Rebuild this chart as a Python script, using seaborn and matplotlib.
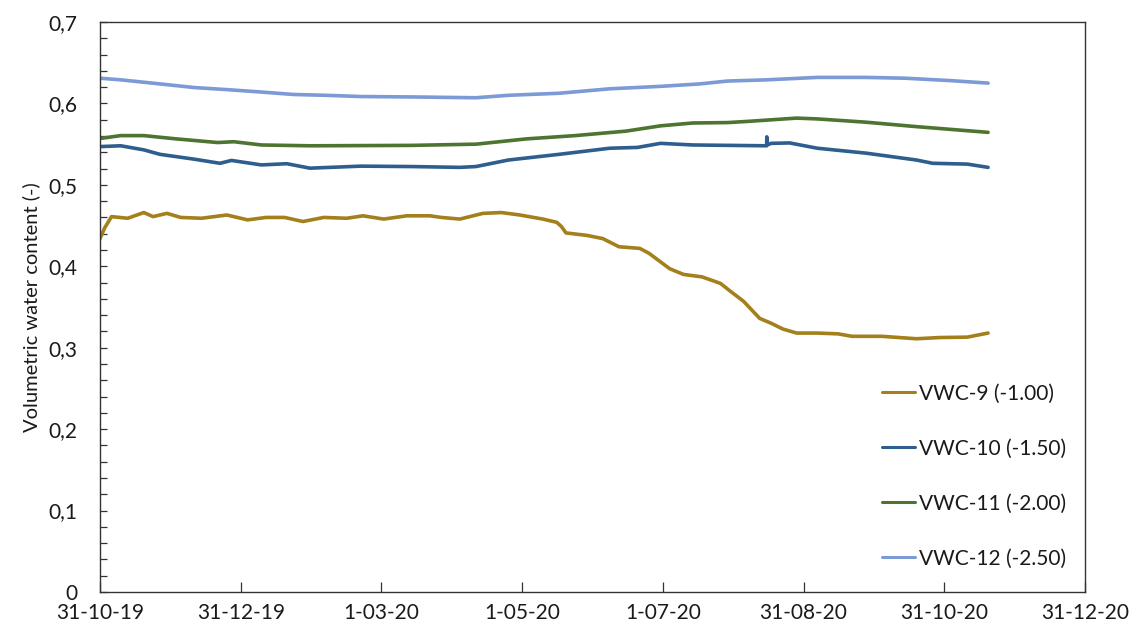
import matplotlib
matplotlib.use("Agg")
import matplotlib.pyplot as plt
import matplotlib.dates as mdates
from matplotlib.ticker import MultipleLocator, FixedLocator, FixedFormatter
import pandas as pd
import seaborn as sns

# --- data -----------------------------------------------------------------
vwc9_dates = ["2019-10-31", "2019-11-02", "2019-11-05", "2019-11-12", "2019-11-19",
              "2019-11-23", "2019-11-29", "2019-12-05", "2019-12-14", "2019-12-25",
              "2020-01-03", "2020-01-11", "2020-01-19", "2020-01-27", "2020-02-05",
              "2020-02-15", "2020-02-22", "2020-03-02", "2020-03-12", "2020-03-22",
              "2020-03-27", "2020-04-04", "2020-04-14", "2020-04-22", "2020-04-30",
              "2020-05-10", "2020-05-16", "2020-05-18", "2020-05-20", "2020-05-29",
              "2020-06-05", "2020-06-12", "2020-06-21", "2020-06-25", "2020-07-04",
              "2020-07-10", "2020-07-18", "2020-07-26", "2020-07-30", "2020-08-05",
              "2020-08-12", "2020-08-17", "2020-08-22", "2020-08-28", "2020-09-06",
              "2020-09-15", "2020-09-21", "2020-10-04", "2020-10-19", "2020-10-29",
              "2020-11-10", "2020-11-19"]
vwc9_values = [0.434, 0.447, 0.461, 0.459, 0.466,
               0.461, 0.465, 0.460, 0.459, 0.463,
               0.457, 0.460, 0.460, 0.455, 0.460,
               0.459, 0.462, 0.458, 0.462, 0.462,
               0.460, 0.458, 0.465, 0.466, 0.463,
               0.458, 0.454, 0.449, 0.441, 0.438,
               0.434, 0.424, 0.422, 0.416, 0.397,
               0.390, 0.387, 0.379, 0.370, 0.357,
               0.336, 0.330, 0.323, 0.318, 0.318,
               0.317, 0.314, 0.314, 0.311, 0.3125,
               0.313, 0.318]

vwc10_dates = ["2019-10-31", "2019-11-09", "2019-11-19", "2019-11-26", "2019-12-11",
               "2019-12-22", "2019-12-27", "2020-01-09", "2020-01-20", "2020-01-30",
               "2020-02-21", "2020-03-14", "2020-04-04", "2020-04-11", "2020-04-25",
               "2020-05-17", "2020-06-08", "2020-06-20", "2020-06-30", "2020-07-14",
               "2020-08-15 00:00", "2020-08-15 02:00", "2020-08-15 04:00", "2020-08-17",
               "2020-08-25", "2020-09-06", "2020-09-27", "2020-10-19", "2020-10-26",
               "2020-11-10", "2020-11-19"]
vwc10_values = [0.547, 0.548, 0.543, 0.5375, 0.5315,
                0.5265, 0.530, 0.5245, 0.526, 0.5205,
                0.523, 0.5225, 0.5215, 0.5225, 0.5305,
                0.5375, 0.545, 0.546, 0.551, 0.549,
                0.548, 0.559, 0.549, 0.551,
                0.5515, 0.545, 0.539, 0.5305, 0.5265,
                0.5255, 0.5215]

vwc11_dates = ["2019-10-31", "2019-11-09", "2019-11-19", "2019-12-03", "2019-12-21",
               "2019-12-28", "2020-01-09", "2020-01-30", "2020-03-14", "2020-04-11",
               "2020-05-03", "2020-05-24", "2020-06-15", "2020-06-30", "2020-07-14",
               "2020-07-29", "2020-08-07", "2020-08-28", "2020-09-06", "2020-09-27",
               "2020-10-19", "2020-11-19"]
vwc11_values = [0.557, 0.5605, 0.5605, 0.5565, 0.552,
                0.553, 0.549, 0.548, 0.5485, 0.550,
                0.5565, 0.5605, 0.566, 0.5725, 0.576,
                0.5765, 0.578, 0.582, 0.581, 0.577,
                0.5715, 0.5645]

vwc12_dates = ["2019-10-31", "2019-11-09", "2019-11-26", "2019-12-11", "2019-12-25",
               "2020-01-09", "2020-01-23", "2020-02-06", "2020-02-21", "2020-03-14",
               "2020-04-11", "2020-04-25", "2020-05-17", "2020-06-08", "2020-06-30",
               "2020-07-17", "2020-07-29", "2020-08-15", "2020-09-06", "2020-09-27",
               "2020-10-14", "2020-11-03", "2020-11-19"]
vwc12_values = [0.631, 0.629, 0.624, 0.6195, 0.617,
                0.614, 0.611, 0.610, 0.6085, 0.608,
                0.607, 0.610, 0.6125, 0.618, 0.621,
                0.624, 0.6275, 0.629, 0.632, 0.632,
                0.631, 0.628, 0.625]

series_names = ["VWC-9 (-1.00)", "VWC-10 (-1.50)", "VWC-11 (-2.00)", "VWC-12 (-2.50)"]
series_colors = ["#A3801C", "#2E5E8E", "#4E7431", "#7B9AD6"]

x_tick_dates = ["2019-10-31", "2019-12-31", "2020-03-01", "2020-05-01",
                "2020-07-01", "2020-08-31", "2020-10-31", "2020-12-31"]
x_tick_labels = ["31-10-19", "31-12-19", "1-03-20", "1-05-20",
                 "1-07-20", "31-08-20", "31-10-20", "31-12-20"]
y_ticks = [0.0, 0.1, 0.2, 0.3, 0.4, 0.5, 0.6, 0.7]
y_tick_labels = ["0", "0,1", "0,2", "0,3", "0,4", "0,5", "0,6", "0,7"]

# --- long-form table ------------------------------------------------------
frames = []
for name, d, v in zip(series_names,
                      [vwc9_dates, vwc10_dates, vwc11_dates, vwc12_dates],
                      [vwc9_values, vwc10_values, vwc11_values, vwc12_values]):
    frames.append(pd.DataFrame({"date": pd.to_datetime(d, format="mixed"),
                                "vwc": v, "sensor": name}))
df = pd.concat(frames, ignore_index=True)

# --- figure ---------------------------------------------------------------
sns.set_theme(style="ticks")
plt.rcParams["font.family"] = ["Lato", "DejaVu Sans"]

fig = plt.figure(figsize=(11.35, 6.33), dpi=100)
ax = fig.add_axes([0.0881, 0.0648, 0.8678, 0.9004])

sns.lineplot(data=df, x="date", y="vwc", hue="sensor", hue_order=series_names,
             palette=dict(zip(series_names, series_colors)),
             linewidth=2.6, ax=ax, sort=False, estimator=None)

ax.set_xlim(pd.Timestamp(x_tick_dates[0]), pd.Timestamp(x_tick_dates[-1]))
ax.set_ylim(0, 0.7)

ax.xaxis.set_major_locator(FixedLocator(mdates.date2num(pd.to_datetime(x_tick_dates))))
ax.xaxis.set_major_formatter(FixedFormatter(x_tick_labels))
ax.yaxis.set_major_locator(FixedLocator(y_ticks))
ax.yaxis.set_major_formatter(FixedFormatter(y_tick_labels))
ax.yaxis.set_minor_locator(MultipleLocator(0.02))

ax.tick_params(axis="x", which="major", direction="in", length=7, width=0.9,
               color="#333333", labelsize=15, labelcolor="#1a1a1a", pad=8)
ax.tick_params(axis="y", which="major", direction="in", length=5, width=0.9,
               color="#333333", labelsize=15, labelcolor="#1a1a1a", pad=16)
ax.tick_params(axis="y", which="minor", direction="in", length=5, width=0.9,
               color="#333333")

for s in ax.spines.values():
    s.set_visible(True)
    s.set_linewidth(1.0)
    s.set_color("#333333")

ax.set_xlabel("")
ax.set_ylabel("Volumetric water content (-)", fontsize=14.5, color="#1a1a1a", labelpad=6)

leg = ax.legend(loc="upper left", bbox_to_anchor=(0.785, 0.38), borderaxespad=0,
                frameon=False, fontsize=15, handlelength=1.6, handletextpad=0.2,
                labelspacing=1.68)
for line in leg.get_lines():
    line.set_linewidth(2.2)
for t in leg.get_texts():
    t.set_color("#1a1a1a")

fig.savefig("out.png", dpi=100)
